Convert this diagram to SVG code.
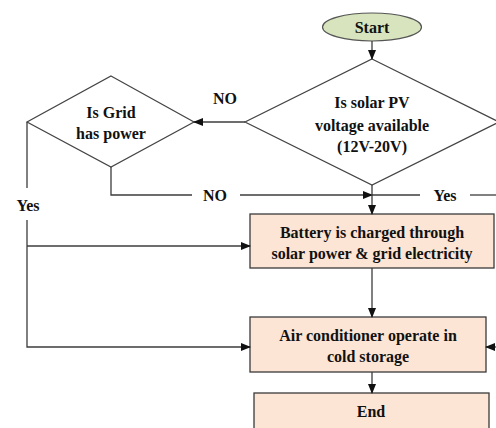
<svg xmlns="http://www.w3.org/2000/svg" width="496" height="428" viewBox="0 0 496 428">
<defs>
<marker id="ah" markerWidth="10" markerHeight="8" refX="9" refY="4" orient="auto" markerUnits="userSpaceOnUse">
<path d="M0,0 L10,4 L0,8 Z" fill="#111"/>
</marker>
<style>
.ln{fill:none;stroke:#3c3c3c;stroke-width:1.3}
.box{fill:#fce5d4;stroke:#3a3a3a;stroke-width:1.3}
.dia{fill:#fff;stroke:#444;stroke-width:1.2}
.t{font-family:"Liberation Serif","Times New Roman",serif;font-weight:bold;font-size:16px;fill:#111;text-anchor:middle}
</style>
</defs>
<rect width="496" height="428" fill="#fff"/>
<g id="start">
<ellipse cx="372" cy="27" rx="49.5" ry="14" fill="#d7e4bd" stroke="#555" stroke-width="1.2"/>
<text class="t" x="372" y="32.5">Start</text>
</g>
<g id="solar">
<polygon class="dia" points="372,59 499,122 372,185 245,122"/>
<text class="t" x="372" y="108">Is solar PV</text>
<text class="t" x="372" y="130.5">voltage available</text>
<text class="t" x="372" y="152">(12V-20V)</text>
</g>
<g id="grid">
<polygon class="dia" points="111,76 194,122 111,167 27,122"/>
<text class="t" x="111" y="117.5">Is Grid</text>
<text class="t" x="111" y="139">has power</text>
</g>
<g id="battery">
<rect class="box" x="250" y="214" width="244" height="54"/>
<text class="t" x="372" y="237.5">Battery is charged through</text>
<text class="t" x="372" y="258.5">solar power &amp; grid electricity</text>
</g>
<g id="aircon">
<rect class="box" x="250" y="317" width="236" height="55"/>
<text class="t" x="368" y="340.5">Air conditioner operate in</text>
<text class="t" x="368" y="361.5">cold storage</text>
</g>
<g id="end">
<rect class="box" x="254" y="393" width="235" height="40"/>
<text class="t" x="371" y="416.5">End</text>
</g>
<g id="connectors">
<line class="ln" x1="372" y1="41" x2="372" y2="59" marker-end="url(#ah)"/>
<line class="ln" x1="245" y1="122" x2="194" y2="122" marker-end="url(#ah)"/>
<polyline class="ln" points="111,167 111,195 192,195"/>
<line class="ln" x1="240" y1="195" x2="372" y2="195" marker-end="url(#ah)"/>
<line class="ln" x1="372" y1="195" x2="420" y2="195"/>
<line class="ln" x1="470" y1="195" x2="496" y2="195"/>
<line class="ln" x1="372" y1="185" x2="372" y2="214" marker-end="url(#ah)"/>
<line class="ln" x1="372" y1="268" x2="372" y2="317" marker-end="url(#ah)"/>
<line class="ln" x1="372" y1="372" x2="372" y2="393" marker-end="url(#ah)"/>
<line class="ln" x1="27" y1="122" x2="27" y2="188"/>
<polyline class="ln" points="27,220 27,347 250,347" marker-end="url(#ah)"/>
<line class="ln" x1="27" y1="246" x2="250" y2="246" marker-end="url(#ah)"/>
<line class="ln" x1="496" y1="347" x2="486" y2="347" marker-end="url(#ah)"/>
<text class="t" x="225" y="103.5">NO</text>
<text class="t" x="215" y="200.5">NO</text>
<text class="t" x="445" y="200.5">Yes</text>
<text class="t" x="28" y="210.5">Yes</text>
</g>
</svg>
